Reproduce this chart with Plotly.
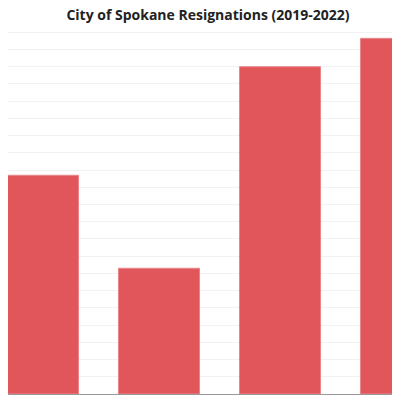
import plotly.graph_objects as go

years = ["2019", "2020", "2021", "2022"]
resignations = [254, 146, 380, 413]

fig = go.Figure(go.Bar(
    x=years, y=resignations,
    marker=dict(color="#e0565b", line=dict(color="#e8868a", width=1)),
    width=0.67,
))

fig.update_layout(
    width=400, height=400,
    margin=dict(l=0, r=0, t=20, b=14, autoexpand=False),
    paper_bgcolor="white", plot_bgcolor="white",
    showlegend=False,
    title=dict(text="<b>City of Spokane Resignations (2019-2022)</b>",
               x=0.5, xanchor="center", y=0.995, yanchor="top",
               font=dict(family="Open Sans", size=14, color="#222")),
)
fig.update_xaxes(range=[-0.248, 3.058], showline=True, linecolor="#999", linewidth=1,
                 ticks="", tickfont=dict(family="Open Sans", size=8, color="#555"),
                 ticklabelstandoff=0, automargin=False)
fig.update_yaxes(range=[0, 425], dtick=20, showticklabels=False,
                 gridcolor="#f2f2f2", zeroline=False, automargin=False)

fig.write_html("out.html")
